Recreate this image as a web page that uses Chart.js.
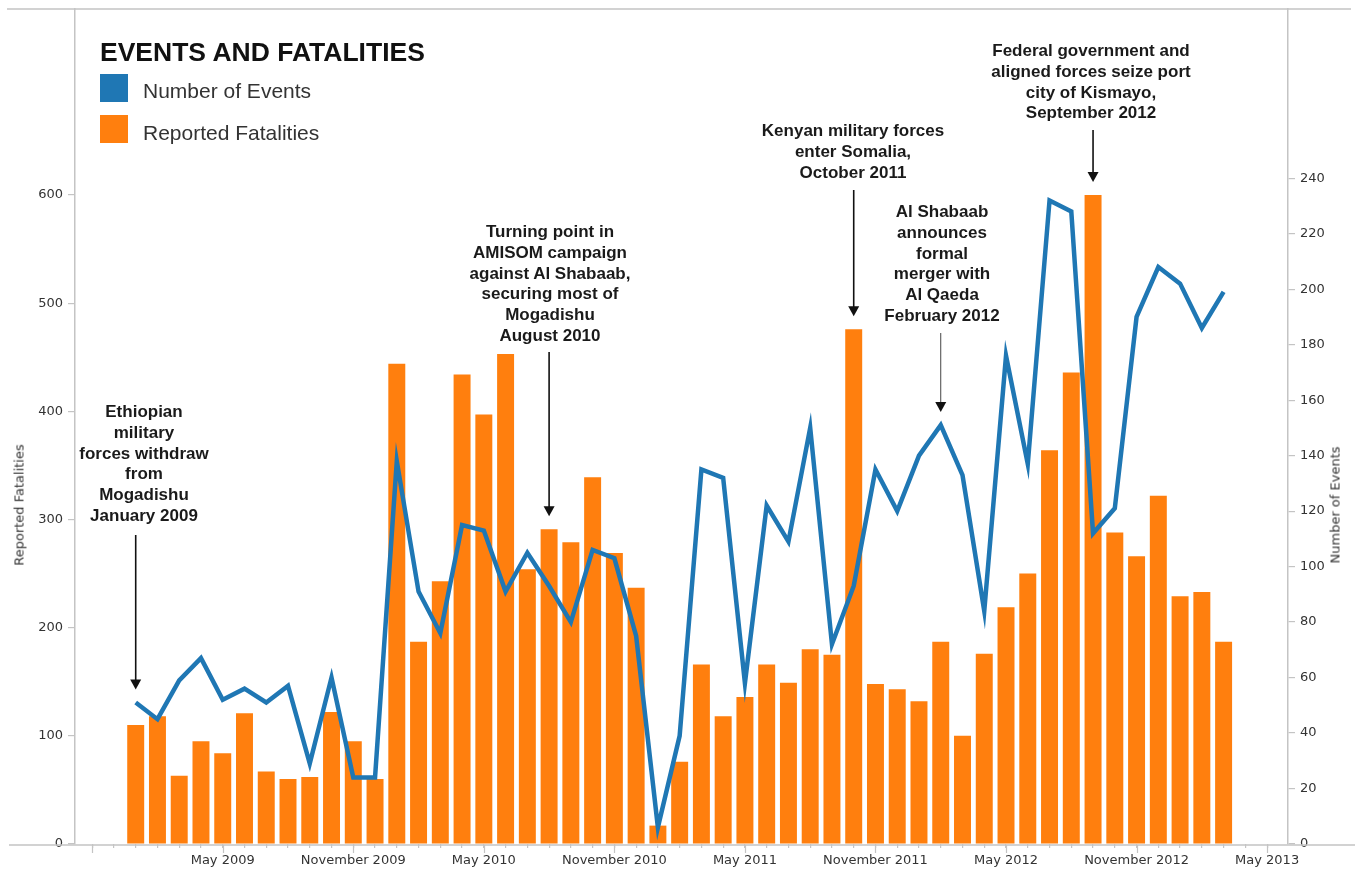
<!DOCTYPE html>
<html>
<head>
<meta charset="utf-8">
<title>Events and Fatalities</title>
<script src="https://cdn.jsdelivr.net/npm/chart.js@4.4.1/dist/chart.umd.min.js"></script>
<style>
  html, body { margin: 0; padding: 0; background: #fff; }
  #wrap { position: relative; width: 1355px; height: 872px; overflow: hidden; }
  #chart { position: absolute; left: 0; top: 0; }
  .txt { position: absolute; white-space: nowrap; font-family: 'Liberation Sans', Arial, sans-serif; }
  #title { left: 100px; top: 39px; font-size: 26.5px; line-height: 26.5px; font-weight: bold; color: #111; }
  .swatch { position: absolute; left: 100px; width: 28px; height: 28px; }
  .legtext { left: 143px; font-size: 21px; line-height: 21px; color: #333; }
  .note { font-size: 17px; line-height: 20.8px; font-weight: bold; color: #1a1a1a; text-align: center; transform: translateX(-50%); }
  .axtitle { font-family: 'DejaVu Sans', sans-serif; font-size: 13px; color: #333; transform: translate(-50%, -50%) rotate(-90deg); }
</style>
</head>
<body>
<div id="wrap">
  <canvas id="chart" width="1355" height="872"></canvas>
  <div id="title" class="txt">EVENTS AND FATALITIES</div>
  <div class="swatch" style="top:74px;background:#1f77b4"></div>
  <div class="txt legtext" style="top:80px">Number of Events</div>
  <div class="swatch" style="top:115px;background:#ff7f0e"></div>
  <div class="txt legtext" style="top:122px">Reported Fatalities</div>
  <div class="txt axtitle" style="left:19px;top:505px">Reported Fatalities</div>
  <div class="txt axtitle" style="left:1335px;top:505px">Number of Events</div>
</div>
<script>
'use strict';

// ── Data ──────────────────────────────────────────────────────
const months = [
  '2009-01', '2009-02', '2009-03', '2009-04', '2009-05', '2009-06',
  '2009-07', '2009-08', '2009-09', '2009-10', '2009-11', '2009-12',
  '2010-01', '2010-02', '2010-03', '2010-04', '2010-05', '2010-06',
  '2010-07', '2010-08', '2010-09', '2010-10', '2010-11', '2010-12',
  '2011-01', '2011-02', '2011-03', '2011-04', '2011-05', '2011-06',
  '2011-07', '2011-08', '2011-09', '2011-10', '2011-11', '2011-12',
  '2012-01', '2012-02', '2012-03', '2012-04', '2012-05', '2012-06',
  '2012-07', '2012-08', '2012-09', '2012-10', '2012-11', '2012-12',
  '2013-01', '2013-02', '2013-03'
];

const fatalities = [
  110, 118, 63, 95, 84, 121, 67, 60, 62, 122, 95, 60,
  444, 187, 243, 434, 397, 453, 254, 291, 279, 339, 269, 237,
  17, 76, 166, 118, 136, 166, 149, 180, 175, 476, 148, 143,
  132, 187, 100, 176, 219, 250, 364, 436, 600, 288, 266, 322,
  229, 233, 187
];

const events = [
  51, 45, 59, 67, 52, 56, 51, 57, 29, 60, 24, 24,
  138, 91, 76, 115, 113, 91, 105, 93, 80, 106, 103, 75,
  6, 39, 135, 132, 58, 122, 109, 150, 72, 93, 135, 120,
  140, 151, 133, 84, 176, 137, 232, 228, 112, 121, 190, 208,
  202, 186, 199
];

const leftTicks  = [0, 100, 200, 300, 400, 500, 600];
const rightTicks = [0, 20, 40, 60, 80, 100, 120, 140, 160, 180, 200, 220, 240];

const xTickLabels = [
  ['2009-05', 'May 2009'], ['2009-11', 'November 2009'],
  ['2010-05', 'May 2010'], ['2010-11', 'November 2010'],
  ['2011-05', 'May 2011'], ['2011-11', 'November 2011'],
  ['2012-05', 'May 2012'], ['2012-11', 'November 2012'],
  ['2013-05', 'May 2013']
];

const annotations = [
  { month: '2009-01', textX: 144, textTop: 402, arrowTop: 535,
    lines: ['Ethiopian', 'military', 'forces withdraw', 'from', 'Mogadishu', 'January 2009'] },
  { month: '2010-08', textX: 550, textTop: 222, arrowTop: 352,
    lines: ['Turning point in', 'AMISOM campaign', 'against Al Shabaab,', 'securing most of', 'Mogadishu', 'August 2010'] },
  { month: '2011-10', textX: 853, textTop: 121, arrowTop: 190,
    lines: ['Kenyan military forces', 'enter Somalia,', 'October 2011'] },
  { month: '2012-02', textX: 942, textTop: 202, arrowTop: 333, thin: true,
    lines: ['Al Shabaab', 'announces', 'formal', 'merger with', 'Al Qaeda', 'February 2012'] },
  { month: '2012-09', textX: 1091, textTop: 41, arrowTop: 130,
    lines: ['Federal government and', 'aligned forces seize port', 'city of Kismayo,', 'September 2012'] }
];

// ── Helpers ───────────────────────────────────────────────────
function monthIndex(key) {
  const [y, m] = key.split('-').map(Number);
  const [y0, m0] = months[0].split('-').map(Number);
  return (y - y0) * 12 + (m - m0);
}

const xFirstTick = monthIndex('2008-11');
const xLastTick  = monthIndex('2013-05');
const tickLabelAt = {};
xTickLabels.forEach(([key, label]) => { tickLabelAt[monthIndex(key)] = label; });

const AXIS_GREY = '#c4c4c4';
const TICK_FONT = { family: 'DejaVu Sans', size: 13 };

// ── Annotation text (real DOM text) ───────────────────────────
const wrap = document.getElementById('wrap');
annotations.forEach(a => {
  const div = document.createElement('div');
  div.className = 'txt note';
  div.style.left = a.textX + 'px';
  div.style.top = a.textTop + 'px';
  div.innerHTML = a.lines.join('<br>');
  wrap.appendChild(div);
});

// ── Frame lines, major ticks + annotation arrows ──────────────
const framePlugin = {
  id: 'frame',
  afterDraw(chart) {
    const { ctx, chartArea: area, scales } = chart;
    ctx.save();
    ctx.strokeStyle = AXIS_GREY;
    ctx.lineWidth = 1.5;
    ctx.beginPath();
    ctx.moveTo(7, area.top);
    ctx.lineTo(1351, area.top);
    ctx.moveTo(9, area.bottom + 1);
    ctx.lineTo(chart.width, area.bottom + 1);
    ctx.stroke();

    // longer tick marks at labelled months (and the half-year before)
    ctx.lineWidth = 1.2;
    ctx.beginPath();
    for (let v = xFirstTick; v <= xLastTick; v += 6) {
      const x = Math.round(scales.x.getPixelForValue(v)) + 0.5;
      ctx.moveTo(x, area.bottom + 1);
      ctx.lineTo(x, area.bottom + 9);
    }
    ctx.stroke();

    annotations.forEach(a => {
      const i = monthIndex(a.month);
      const x = scales.x.getPixelForValue(i);
      const tip = Math.min(scales.y.getPixelForValue(fatalities[i]),
                           scales.y1.getPixelForValue(events[i])) - 13;
      ctx.strokeStyle = a.thin ? '#444' : '#111';
      ctx.fillStyle = '#111';
      ctx.lineWidth = a.thin ? 1 : 1.6;
      ctx.beginPath();
      ctx.moveTo(x, a.arrowTop);
      ctx.lineTo(x, tip - 8);
      ctx.stroke();
      ctx.beginPath();
      ctx.moveTo(x - 5.5, tip - 10);
      ctx.lineTo(x + 5.5, tip - 10);
      ctx.lineTo(x, tip);
      ctx.closePath();
      ctx.fill();
    });
    ctx.restore();
  }
};

// ── Chart ─────────────────────────────────────────────────────
const ctx = document.getElementById('chart').getContext('2d');

new Chart(ctx, {
  type: 'bar',
  data: {
    datasets: [
      {
        type: 'line',
        label: 'Number of Events',
        data: events.map((v, i) => ({ x: i, y: v })),
        yAxisID: 'y1',
        borderColor: '#1f77b4',
        borderWidth: 4.5,
        pointRadius: 0,
        tension: 0,
        order: 0,
      },
      {
        type: 'bar',
        label: 'Reported Fatalities',
        data: fatalities.map((v, i) => ({ x: i, y: v })),
        yAxisID: 'y',
        backgroundColor: '#ff7f0e',
        categoryPercentage: 1,
        barPercentage: 0.78,
        order: 1,
      },
    ],
  },
  options: {
    responsive: false,
    animation: false,
    devicePixelRatio: 1,
    layout: { padding: { top: 9, left: 0, right: 0, bottom: 0 } },
    plugins: {
      legend: { display: false },
      tooltip: { enabled: false },
    },
    scales: {
      x: {
        type: 'linear',
        position: 'bottom',
        offset: false,
        min: xFirstTick - 0.79,
        max: xLastTick + 0.96,
        afterBuildTicks: scale => {
          const t = [];
          for (let v = xFirstTick; v <= xLastTick; v++) t.push({ value: v });
          scale.ticks = t;
        },
        afterFit: scale => { scale.height = 28; scale.paddingLeft = 0; scale.paddingRight = 0; },
        grid: { display: true, offset: false, drawOnChartArea: false, color: AXIS_GREY, tickLength: 4, lineWidth: 1.2 },
        border: { display: false },
        ticks: {
          autoSkip: false,
          maxRotation: 0,
          padding: 5,
          color: '#333',
          font: TICK_FONT,
          callback: v => tickLabelAt[v] || '',
        },
      },
      y: {
        position: 'left',
        min: 0,
        max: 772,
        afterBuildTicks: scale => { scale.ticks = leftTicks.map(v => ({ value: v })); },
        afterFit: scale => { scale.width = 75; scale.paddingTop = 0; scale.paddingBottom = 0; },
        grid: { drawOnChartArea: false, color: AXIS_GREY, tickLength: 7, lineWidth: 1.2 },
        border: { display: true, color: AXIS_GREY, width: 1.5 },
        ticks: { padding: 5, color: '#333', font: TICK_FONT },
      },
      y1: {
        position: 'right',
        min: 0,
        max: 301,
        afterBuildTicks: scale => { scale.ticks = rightTicks.map(v => ({ value: v })); },
        afterFit: scale => { scale.width = 67; scale.paddingTop = 0; scale.paddingBottom = 0; },
        grid: { drawOnChartArea: false, color: AXIS_GREY, tickLength: 7, lineWidth: 1.2 },
        border: { display: true, color: AXIS_GREY, width: 1.5 },
        ticks: { padding: 5, color: '#333', font: TICK_FONT },
      },
    },
  },
  plugins: [framePlugin],
});
</script>
</body>
</html>
